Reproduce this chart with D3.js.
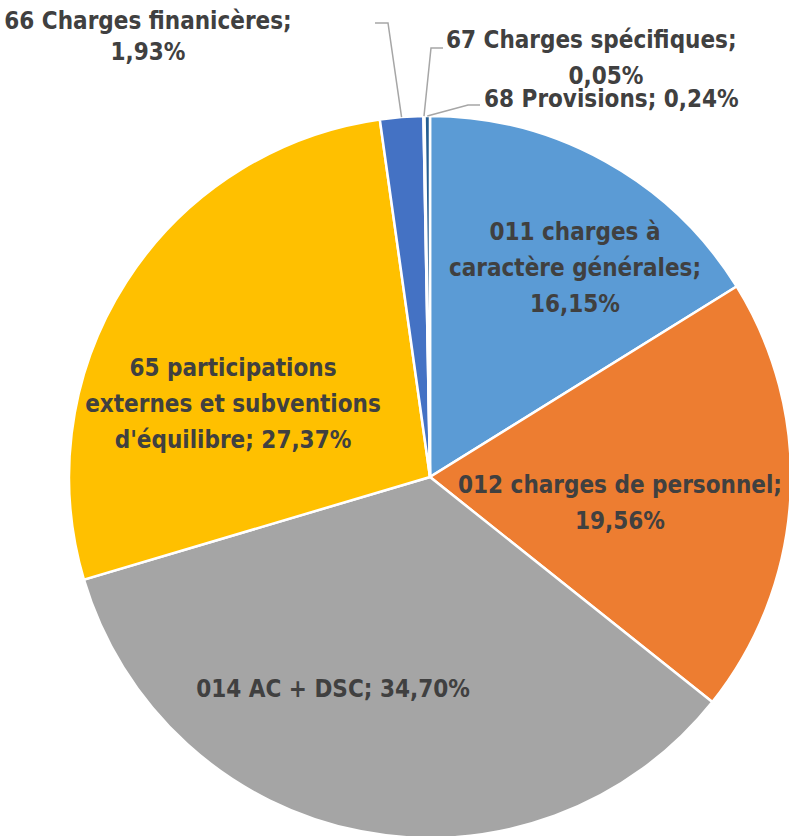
<!DOCTYPE html>
<html>
<head>
<meta charset="utf-8">
<script src="https://cdn.jsdelivr.net/npm/d3@7"></script>
<style>
  body { margin: 0; background: #fff; }
  text { font-family: "Liberation Sans Narrow", "DejaVu Sans Condensed", "Roboto", sans-serif; font-weight: bold; font-stretch: condensed; fill: #404040; }
</style>
</head>
<body>
<svg id="chart"></svg>
<script>
// chart data
var categories = ["011 charges à caractère générales", "012 charges de personnel", "014 AC + DSC",
  "65 participations externes et subventions d'équilibre", "66 Charges finanicères",
  "67 Charges spécifiques", "68 Provisions"];
var values = [16.15, 19.56, 34.70, 27.37, 1.93, 0.05, 0.24];
var labelLines = [
  ["011 charges à", "caractère générales;", "16,15%"],
  ["012 charges de personnel;", "19,56%"],
  ["014 AC + DSC; 34,70%"],
  ["65 participations", "externes et subventions", "d'équilibre; 27,37%"],
  ["66 Charges finanicères;", "1,93%"],
  ["67 Charges spécifiques;", "0,05%"],
  ["68 Provisions; 0,24%"]
];
var colors = ["#5B9BD5", "#ED7D31", "#A5A5A5", "#FFC000", "#4472C4", "#70AD47", "#255E91"];

var width = 789, height = 836;
var cx = 430, cy = 477, radius = 361;

var svg = d3.select("#chart").attr("width", width).attr("height", height);
var g = svg.append("g").attr("transform", "translate(" + cx + "," + cy + ")");

var data = categories.map(function(c, i) { return {name: c, value: values[i], lines: labelLines[i]}; });

var pie = d3.pie().value(function(d) { return d.value; }).sort(null);
var arc = d3.arc().innerRadius(0).outerRadius(radius);

var arcs = pie(data);

g.selectAll("path")
  .data(arcs)
  .join("path")
  .attr("d", arc)
  .attr("fill", function(d, i) { return colors[i]; })
  .attr("stroke", "#fff")
  .style("stroke-width", "2.5px");

// label layout (relative to center): x, y of first line, anchor
var labelPos = [
  {x: 145, y: -244, anchor: "middle"},
  {x: 190, y: 9, anchor: "middle"},
  {x: -97, y: 213, anchor: "middle"},
  {x: -197, y: -108, anchor: "middle"},
  {x: -282, y: -455, anchor: "middle", dy: 31},
  {x: 16, y: -436, anchor: "start", second: 160},
  {x: 54, y: -377, anchor: "start"}
];
// leader line bend points (relative to center) for the small outside slices
var leaders = {
  4: [[-42, -454], [-55, -454]],
  5: [[1, -429], [13, -429]],
  6: [[38, -372], [50, -372]]
};

var lineH = 36;
arcs.forEach(function(d, i) {
  var p = labelPos[i];
  var t = g.append("text")
    .attr("text-anchor", p.anchor)
    .style("font-size", "24px");
  d.data.lines.forEach(function(l, j) {
    var ts = t.append("tspan").attr("x", p.x).attr("y", p.y + j * (p.dy || lineH)).text(l);
    if (p.second && j == 1) ts.attr("x", p.x + p.second).attr("text-anchor", "middle");
  });
  t.attr("dominant-baseline", "middle");

  if (leaders[i]) {
    var a = (d.startAngle + d.endAngle) / 2;
    var start = [Math.sin(a) * radius, -Math.cos(a) * radius];
    var pts = [start].concat(leaders[i]);
    g.append("path")
      .attr("d", d3.line()(pts))
      .attr("fill", "none")
      .attr("stroke", "#A6A6A6")
      .style("stroke-width", "1.5px");
  }
});
</script>
</body>
</html>
